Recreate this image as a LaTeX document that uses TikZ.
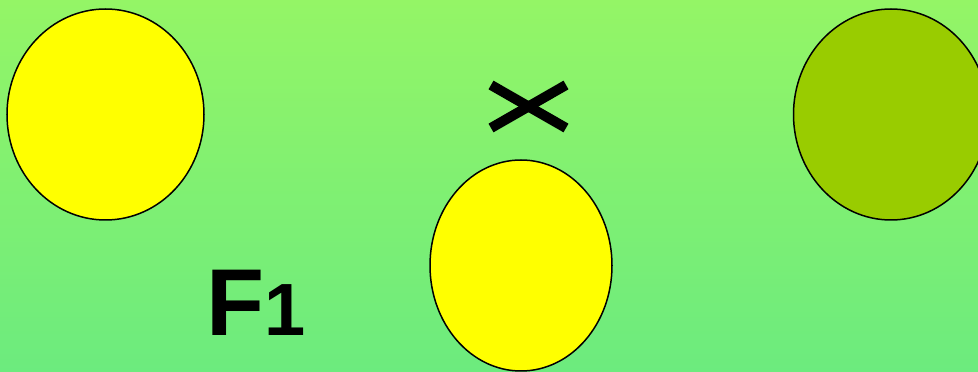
\documentclass[tikz,border=0pt]{standalone}
\usepackage{fontspec}
\setmainfont{Liberation Sans}
\definecolor{bgtop}{RGB}{148,245,102}
\definecolor{bgbot}{RGB}{108,235,126}
\definecolor{yel}{RGB}{255,255,0}
\definecolor{olive}{RGB}{153,204,0}
\tikzset{
  blob/.style={draw=black, line width=1.5pt},
  cross/.style={line width=10pt, line cap=butt},
  lbl/.style={inner sep=0pt, anchor=base west, font=\bfseries\fontsize{95}{95}\selectfont}
}
\begin{document}
\begin{tikzpicture}[x=1pt,y=1pt]
\useasboundingbox (0,0) rectangle (978,372);
\clip (0,0) rectangle (978,372);
\shade[top color=bgtop, bottom color=bgbot] (0,0) rectangle (978,372);
\draw[blob, fill=yel] (105.5,257.5) ellipse [x radius=98.5, y radius=105.5];
\draw[blob, fill=yel] (521,106.5) ellipse [x radius=91, y radius=105.5];
\draw[blob, fill=olive] (891,257.5) ellipse [x radius=97.5, y radius=105.5];
\coordinate (c1) at (491,287);
\coordinate (c2) at (566,244);
\coordinate (c3) at (491,244);
\coordinate (c4) at (566,287);
\draw[cross] (c1) -- (c2);
\draw[cross] (c3) -- (c4);
\node[lbl] (f1) at (206,36) {F{\fontsize{74}{74}\selectfont 1}};
\end{tikzpicture}
\end{document}
